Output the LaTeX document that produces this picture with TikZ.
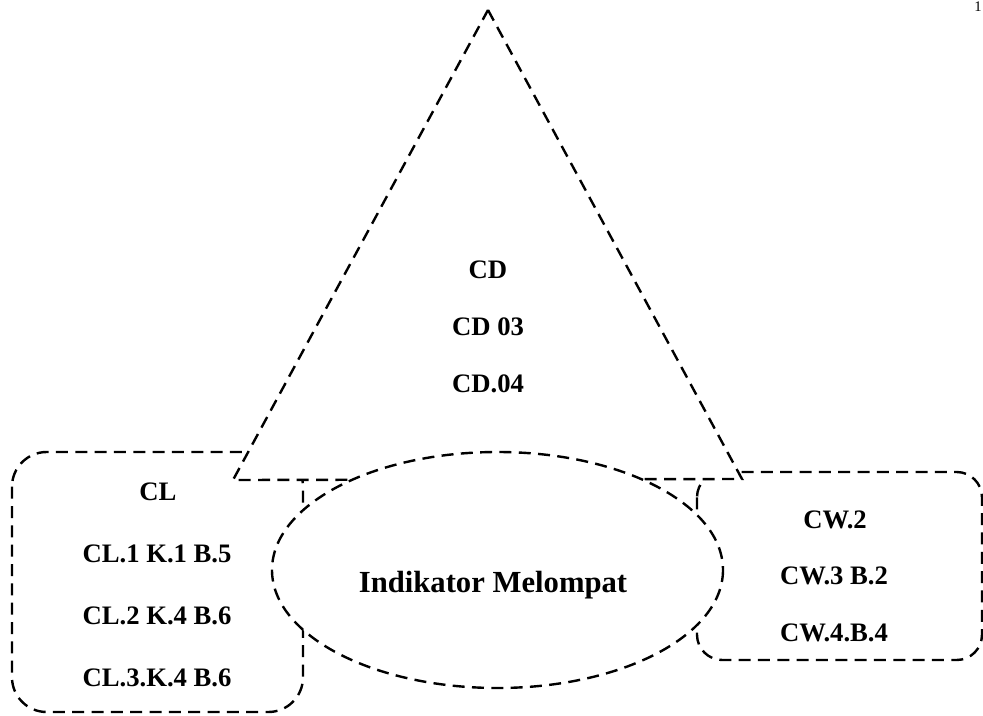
\documentclass[tikz,border=0pt]{standalone}
\usepackage{fontspec}
\setmainfont{Liberation Serif}
\begin{document}
\begin{tikzpicture}[x=0.75pt,y=-0.75pt,
  frame/.style={draw=black,line width=1.8pt,dash pattern=on 9pt off 5.5pt,fill=white},
  lbl/.style={font=\fontsize{20}{24}\selectfont\bfseries,anchor=center,inner sep=0pt},
  biglbl/.style={font=\fontsize{23}{27}\selectfont\bfseries,anchor=center,inner sep=0pt}]
\useasboundingbox (0,0) rectangle (983,715);

% page number
\node[font=\fontsize{11}{13}\selectfont,anchor=base east,inner sep=0pt] (pg) at (982,11) {1};

% side boxes (behind everything else)
\draw[frame,rounded corners=26pt] (12,452) rectangle (303,712);
\draw[frame,rounded corners=19pt] (697,472) rectangle (982,660);

% triangle
\coordinate (tA) at (488,10);
\coordinate (tL) at (233,480);
\coordinate (tR) at (742,479);
\draw[frame,line join=miter] (tA) -- (tR) -- (tL) -- cycle;

% central ellipse
\draw[frame] (497.5,570) ellipse [x radius=225.5, y radius=118];

% triangle labels
\node[lbl] (cd)   at (488,270) {CD};
\node[lbl] (cd03) at (488,327) {CD 03};
\node[lbl] (cd04) at (488,384) {CD.04};

% left box labels
\node[lbl] (cl)  at (158,492) {CL};
\node[lbl] (cl1) at (157,554) {CL.1 K.1 B.5};
\node[lbl] (cl2) at (157,616) {CL.2 K.4 B.6};
\node[lbl] (cl3) at (157,678) {CL.3.K.4 B.6};

% right box labels
\node[lbl] (cw2) at (835,520) {CW.2};
\node[lbl] (cw3) at (834,576) {CW.3 B.2};
\node[lbl] (cw4) at (834,633) {CW.4.B.4};

% ellipse label
\node[biglbl] (ind) at (493,585) {Indikator Melompat};
\end{tikzpicture}
\end{document}
